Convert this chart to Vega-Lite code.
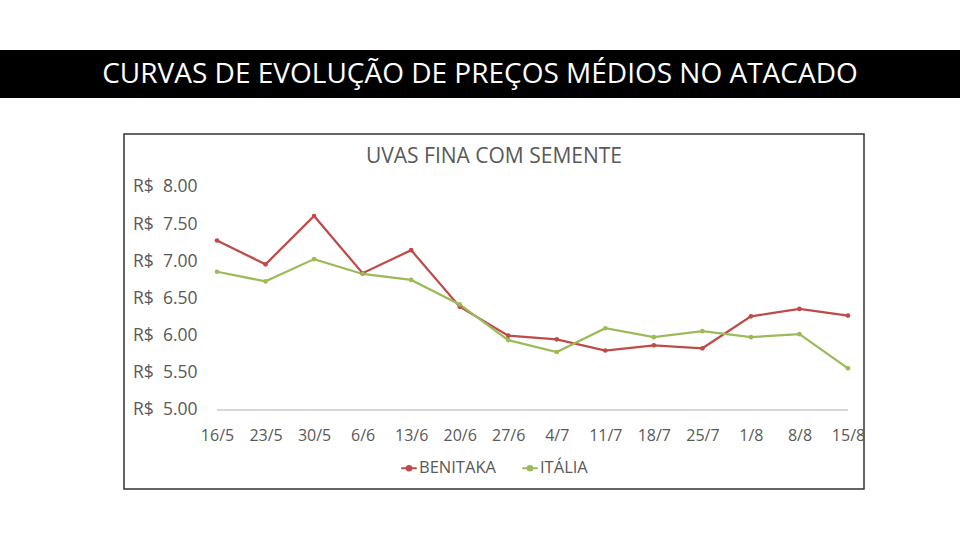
{
  "$schema": "https://vega.github.io/schema/vega-lite/v6.json",
  "padding": {"top": 50, "left": 0, "right": 0, "bottom": 0},
  "background": "white",
  "config": {
    "font": "Open Sans",
    "view": {"stroke": null}
  },
  "spacing": 35,
  "vconcat": [
    {
      "width": 960,
      "height": 48,
      "view": {"fill": "black", "stroke": null},
      "data": {"values": [{"t": "CURVAS DE EVOLUÇÃO DE PREÇOS MÉDIOS NO ATACADO"}]},
      "mark": {"type": "text", "color": "white", "fontSize": 28, "font": "Open Sans", "baseline": "middle", "align": "center", "dy": 1},
      "encoding": {"text": {"field": "t", "type": "nominal"}}
    },
    {
      "spacing": 0,
      "resolve": {"legend": {"color": "independent"}, "scale": {"color": "independent"}},
      "hconcat": [
        {
          "width": 123,
          "height": 10,
          "data": {"values": []},
          "mark": "point",
          "encoding": {}
        },
        {
          "width": 740,
          "height": 355,
          "view": {"stroke": "#333333", "strokeWidth": 1.5},
          "title": {"text": "UVAS FINA COM SEMENTE", "offset": -33, "fontSize": 21, "font": "Open Sans", "color": "#595959", "fontWeight": "normal", "anchor": "middle", "frame": "group"},
          "data": {"values": [
            {"date": "16/5", "series": "BENITAKA", "price": 7.28},
            {"date": "23/5", "series": "BENITAKA", "price": 6.96},
            {"date": "30/5", "series": "BENITAKA", "price": 7.61},
            {"date": "6/6", "series": "BENITAKA", "price": 6.84},
            {"date": "13/6", "series": "BENITAKA", "price": 7.15},
            {"date": "20/6", "series": "BENITAKA", "price": 6.39},
            {"date": "27/6", "series": "BENITAKA", "price": 6.0},
            {"date": "4/7", "series": "BENITAKA", "price": 5.95},
            {"date": "11/7", "series": "BENITAKA", "price": 5.8},
            {"date": "18/7", "series": "BENITAKA", "price": 5.87},
            {"date": "25/7", "series": "BENITAKA", "price": 5.83},
            {"date": "1/8", "series": "BENITAKA", "price": 6.26},
            {"date": "8/8", "series": "BENITAKA", "price": 6.36},
            {"date": "15/8", "series": "BENITAKA", "price": 6.27},
            {"date": "16/5", "series": "ITÁLIA", "price": 6.86},
            {"date": "23/5", "series": "ITÁLIA", "price": 6.73},
            {"date": "30/5", "series": "ITÁLIA", "price": 7.03},
            {"date": "6/6", "series": "ITÁLIA", "price": 6.83},
            {"date": "13/6", "series": "ITÁLIA", "price": 6.75},
            {"date": "20/6", "series": "ITÁLIA", "price": 6.42},
            {"date": "27/6", "series": "ITÁLIA", "price": 5.94},
            {"date": "4/7", "series": "ITÁLIA", "price": 5.78},
            {"date": "11/7", "series": "ITÁLIA", "price": 6.1},
            {"date": "18/7", "series": "ITÁLIA", "price": 5.98},
            {"date": "25/7", "series": "ITÁLIA", "price": 6.06},
            {"date": "1/8", "series": "ITÁLIA", "price": 5.98},
            {"date": "8/8", "series": "ITÁLIA", "price": 6.02},
            {"date": "15/8", "series": "ITÁLIA", "price": 5.56}
          ]},
          "encoding": {
            "x": {
              "field": "date", "type": "nominal",
              "scale": {"type": "point", "domain": ["16/5", "23/5", "30/5", "6/6", "13/6", "20/6", "27/6", "4/7", "11/7", "18/7", "25/7", "1/8", "8/8", "15/8"], "padding": 0, "range": [93, 724]},
              "axis": {"orient": "bottom", "offset": -79, "title": null, "labelAngle": 0, "domain": false, "ticks": false, "labelPadding": 17, "labelFontSize": 16, "labelColor": "#595959", "labelFont": "Open Sans"}
            },
            "y": {
              "field": "price", "type": "quantitative",
              "scale": {"domain": [3.937, 8.713], "nice": false, "zero": false},
              "axis": {"values": [5, 5.5, 6, 6.5, 7, 7.5, 8], "labelExpr": "'R$\u00a0\u00a0' + format(datum.value, '.2f')", "offset": -73, "domain": false, "ticks": false, "grid": false, "labelPadding": 0, "title": null, "labelFontSize": 17.5, "labelColor": "#595959", "labelFont": "Open Sans"}
            }
          },
          "layer": [
            {
              "mark": {"type": "rule", "color": "#d9d9d9", "strokeWidth": 1},
              "encoding": {
                "x": {"datum": "16/5", "type": "nominal"},
                "x2": {"datum": "15/8"},
                "y": {"datum": 5, "type": "quantitative"}
              }
            },
            {
              "mark": {"type": "line", "strokeWidth": 2.25, "point": {"filled": true, "size": 22}},
              "encoding": {
                "color": {
                  "field": "series", "type": "nominal",
                  "scale": {"domain": ["BENITAKA", "ITÁLIA"], "range": ["#BE4B48", "#9BBB59"]},
                  "legend": {"orient": "none", "legendX": 276, "legendY": 325, "direction": "horizontal", "title": null, "labelFontSize": 16.5, "labelColor": "#595959", "labelFont": "Open Sans", "symbolType": "M-1,0H1M-0.3,0A0.3,0.3 0 1,0 0.3,0A0.3,0.3 0 1,0 -0.3,0", "symbolStrokeWidth": 2, "symbolSize": 240, "symbolFillColor": "transparent", "columnPadding": 22, "labelOffset": 1}
                }
              }
            }
          ]
        }
      ]
    }
  ]
}
